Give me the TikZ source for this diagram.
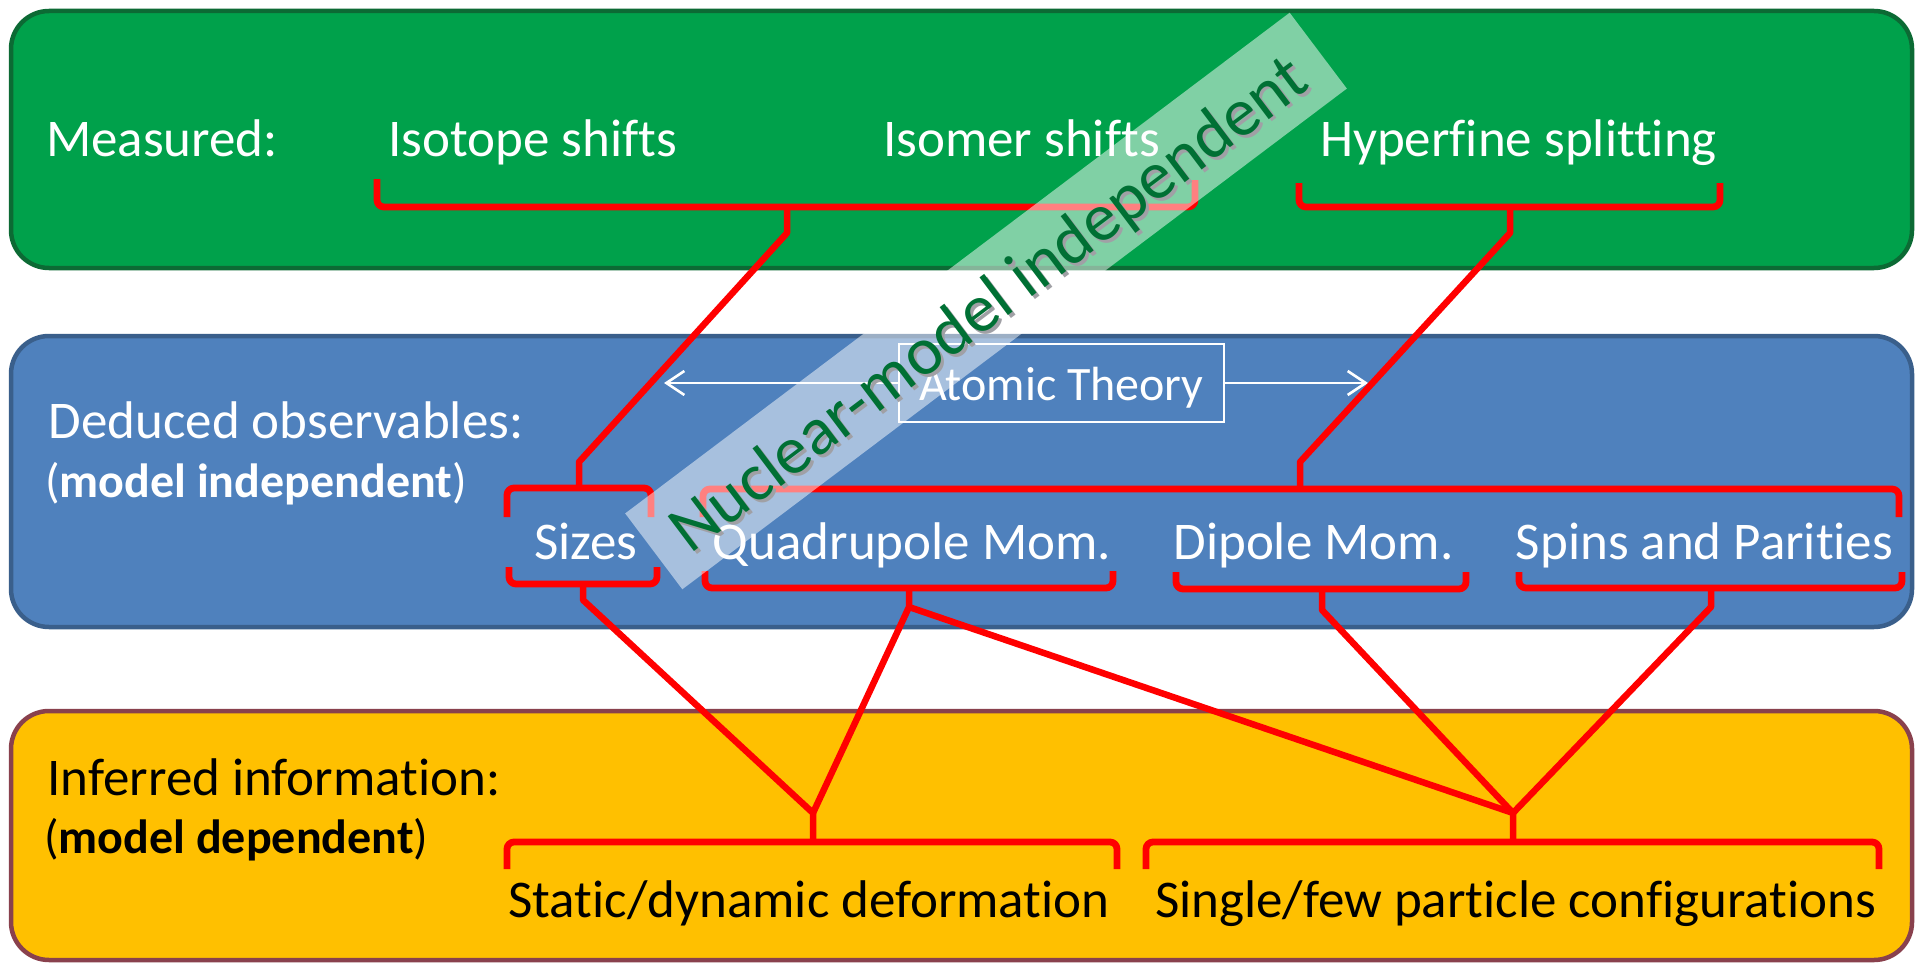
\documentclass[tikz,border=0pt]{standalone}
\usepackage{fontspec}
\setmainfont{Carlito}[Ligatures=NoCommon, Contextuals=NoAlternate]
\usetikzlibrary{arrows.meta}
\definecolor{gfill}{RGB}{0,161,75}
\definecolor{gline}{RGB}{12,106,52}
\definecolor{bfill}{RGB}{79,129,189}
\definecolor{bline}{RGB}{58,95,139}
\definecolor{yfill}{RGB}{255,192,0}
\definecolor{yline}{RGB}{137,65,77}
\definecolor{bandtext}{RGB}{0,112,52}
\definecolor{shadowgray}{RGB}{160,160,165}
\tikzset{
  panel/.style={rounded corners=38pt, line width=4.5pt},
  lbl/.style={font=\fontsize{53}{60}\selectfont, inner sep=0pt, anchor=base},
  sublbl/.style={font=\fontsize{48}{56}\selectfont, inner sep=0pt, anchor=base west},
  brace/.style={draw=red, line width=6.8pt, rounded corners=7pt, line join=round},
  link/.style={draw=red, line width=6.5pt, line join=round},
  warrow/.style={draw=white, line width=2.6pt, -{Straight Barb[length=18pt,width=24pt]}},
  bandlbl/.style={font=\fontsize{68}{80}\selectfont, inner sep=0pt, anchor=base, transform shape}
}
\begin{document}
\begin{tikzpicture}[x=1pt,y=-1pt]
\useasboundingbox (0,0) rectangle (1917,963);
% panels
\draw[panel, fill=gfill, draw=gline] (11,11) rectangle (1912,268);
\draw[panel, fill=bfill, draw=bline] (11,336) rectangle (1912,627);
\draw[panel, fill=yfill, draw=yline] (11,711) rectangle (1912,960);

% green row texts
\node[lbl, text=white] (meas) at (162,157) {Measured:};
\node[lbl, text=white] (isot) at (533,157) {Isotope shifts};
\node[lbl, text=white] (isom) at (1021.5,157) {Isomer shifts};
\node[lbl, text=white] (hfs) at (1518.5,157) {Hyperfine splitting};

% blue row texts
\node[lbl, text=white] (ded) at (286,438) {Deduced observables:};
\node[sublbl, text=white] (dedsub) at (45,497) {(\textbf{model independent})};
\node[lbl, text=white] (sizes) at (586,559) {Sizes};
\node[lbl, text=white] (quad) at (912,559) {Quadrupole Mom.};
\node[lbl, text=white] (dip) at (1313.5,559) {Dipole Mom.};
\node[lbl, text=white] (spin) at (1704.5,559) {Spins and Parities};

% yellow row texts
\node[lbl, text=black] (inf) at (274,795) {Inferred information:};
\node[sublbl, text=black] (infsub) at (44,853) {(\textbf{model dependent})};
\node[lbl, text=black] (deform) at (809,917) {Static/dynamic deformation};
\node[lbl, text=black] (single) at (1515.5,917) {Single/few particle configurations};

% Atomic theory box and arrows
\node[draw=white, line width=2pt, inner sep=0pt, anchor=base, text=white,
      font=\fontsize{48}{56}\selectfont, text height=56pt, text depth=22pt,
      minimum width=325pt] (atomic) at (1061.5,400) {Atomic Theory};
\coordinate (arrL) at (664,383);
\coordinate (arrR) at (1368,383);
\draw[warrow] (atomic.west) -- (arrL);
\draw[warrow] (atomic.east) -- (arrR);

% braces - green panel
\draw[brace] (377,179) -- (377,207) -- (1195,207) -- (1195,180);
\draw[brace] (1299,183) -- (1299,207) -- (1720,207) -- (1720,183);
% braces - blue panel (top)
\draw[brace] (507,517) -- (507,488) -- (651,488) -- (651,517);
\draw[brace] (703,517) -- (703,489) -- (1899,489) -- (1899,517);
% braces - blue panel (bottom)
\draw[brace] (509,567) -- (509,584) -- (657,584) -- (657,567);
\draw[brace] (705,571) -- (705,588) -- (1113,588) -- (1113,571);
\draw[brace] (1176,572) -- (1176,589) -- (1466,589) -- (1466,572);
\draw[brace] (1519,572) -- (1519,588) -- (1902,588) -- (1902,572);
% braces - yellow panel
\draw[brace] (507,869) -- (507,842) -- (1117,842) -- (1117,869);
\draw[brace] (1146,869) -- (1146,842) -- (1879,842) -- (1879,869);

% junction coordinates
\coordinate (isoB) at (787,207);   \coordinate (isoJ) at (787,233);
\coordinate (hfsB) at (1510,207);  \coordinate (hfsJ) at (1510,233);
\coordinate (sizT) at (579,488);   \coordinate (sizTJ) at (579,462);
\coordinate (lngT) at (1300,489);  \coordinate (lngTJ) at (1300,462);
\coordinate (sizB) at (583,584);   \coordinate (sizBJ) at (583,600);
\coordinate (quaB) at (909,588);   \coordinate (quaBJ) at (909,607);
\coordinate (dipB) at (1322,589);  \coordinate (dipBJ) at (1322,610);
\coordinate (spiB) at (1711,588);  \coordinate (spiBJ) at (1711,607);
\coordinate (defT) at (813,842);   \coordinate (defJ) at (813,813);
\coordinate (sinT) at (1513,842);  \coordinate (sinJ) at (1513,813);

% connectors
\draw[link] (isoB) -- (isoJ) -- (sizTJ) -- (sizT);
\draw[link] (hfsB) -- (hfsJ) -- (lngTJ) -- (lngT);
\draw[link] (sizB) -- (sizBJ) -- (defJ) -- (defT);
\draw[link] (quaB) -- (quaBJ) -- (defJ);
\draw[link] (quaBJ) -- (sinJ) -- (sinT);
\draw[link] (dipB) -- (dipBJ) -- (sinJ);
\draw[link] (spiB) -- (spiBJ) -- (sinJ);

% translucent band
\begin{scope}[shift={(986,301)}, rotate=37]
  \fill[white, opacity=0.5] (-416,-47.5) rectangle (416,47.5);
  \node[bandlbl, text=shadowgray] (bandshadow) at (0.6,29.2) {Nuclear-model independent};
  \node[bandlbl, text=bandtext] (band) at (0,25) {Nuclear-model independent};
\end{scope}
\end{tikzpicture}
\end{document}
